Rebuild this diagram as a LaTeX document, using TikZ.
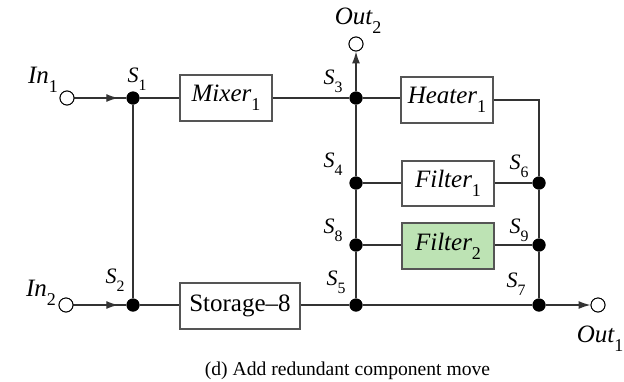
\documentclass[tikz,border=0pt]{standalone}
\usepackage{fontspec}
\setmainfont{Liberation Serif}
\usetikzlibrary{arrows.meta}
\definecolor{lineC}{HTML}{333333}
\definecolor{boxC}{HTML}{555555}
\definecolor{greenF}{HTML}{BDE3B4}
\newcommand\lsub[1]{\raisebox{-0.36em}{\scalebox{0.72}{\upshape #1}}}
\tikzset{
  comp/.style={draw=boxC, line width=1.2pt, minimum width=92pt, minimum height=46pt, inner sep=0pt, font=\fontsize{25}{30}\selectfont},
  junc/.style={circle, fill=black, minimum size=13pt, inner sep=0pt},
  port/.style={circle, draw=black, fill=white, line width=0.9pt, minimum size=14pt, inner sep=0pt},
  wire/.style={draw=lineC, line width=1.3pt},
  arr/.style={wire, -{Latex[length=12pt,width=8pt]}},
  slab/.style={inner sep=0pt, font=\fontsize{22}{26}\selectfont},
  plab/.style={inner sep=0pt, font=\fontsize{25}{30}\selectfont},
}
\begin{document}
\begin{tikzpicture}[x=1pt,y=-1pt]
\useasboundingbox (0,0) rectangle (624,381);
% ports
\node[port] (in1) at (67,98) {};
\node[port] (in2) at (66,305) {};
\node[port] (out2) at (356,44) {};
\node[port] (out1) at (598,305) {};
% junctions
\node[junc] (s1) at (133,98) {};
\node[junc] (s2) at (133,305) {};
\node[junc] (s3) at (356,98) {};
\node[junc] (s4) at (356,183) {};
\node[junc] (s8) at (356,245) {};
\node[junc] (s5) at (356,305) {};
\node[junc] (s6) at (539,183) {};
\node[junc] (s9) at (539,245) {};
\node[junc] (s7) at (539,305) {};
% components
\node[comp] (mixer) at (226,98) {\itshape Mixer\lsub{1}};
\node[comp, minimum width=120pt] (storage) at (240,306) {Storage–8};
\node[comp] (heater) at (447,100) {\itshape Heater\lsub{1}};
\node[comp, minimum height=45pt] (filter1) at (448,183.5) {\itshape Filter\lsub{1}};
\node[comp, fill=greenF] (filter2) at (448,246) {\itshape Filter\lsub{2}};
% wires
\draw[wire] (in1) -- (s1);
\draw[arr, shorten >=8pt] (in1) -- (s1);
\draw[wire] (in2) -- (s2);
\draw[arr, shorten >=8pt] (in2) -- (s2);
\draw[wire] (s1) -- (s2);
\draw[wire] (s1) -- (mixer);
\draw[wire] (mixer) -- (s3);
\draw[wire] (s2) -- (storage.west |- s2);
\draw[wire] (storage.east |- s5) -- (s5);
\draw[arr] (s3) -- (out2);
\draw[wire] (s3) -- (heater.west |- s3);
\draw[wire] (heater.east) -| (s6);
\draw[wire] (s3) -- (s4) -- (s8) -- (s5);
\draw[wire] (s6) -- (s9) -- (s7);
\draw[wire] (s4) -- (filter1.west |- s4);
\draw[wire] (filter1.east |- s6) -- (s6);
\draw[wire] (s8) -- (filter2.west |- s8);
\draw[wire] (filter2.east |- s9) -- (s9);
\draw[wire] (s5) -- (s7);
\draw[arr] (s7) -- (out1);
% redraw junctions on top
\foreach \n in {s1,s2,s3,s4,s8,s5,s6,s9,s7}{\fill (\n) circle (6.5pt);}
\foreach \n in {in1,in2,out1,out2}{\draw[line width=0.9pt, fill=white] (\n) circle (7pt);}
% labels
\node[plab] (lin1) at (43,80) {\itshape In\lsub{1}};
\node[plab] (lin2) at (41,293) {\itshape In\lsub{2}};
\node[plab] (lout2) at (358,21) {\itshape Out\lsub{2}};
\node[plab] (lout1) at (600,339) {\itshape Out\lsub{1}};
\node[slab] (ls1) at (137,79) {\itshape S\lsub{1}};
\node[slab] (ls2) at (115,280) {\itshape S\lsub{2}};
\node[slab] (ls3) at (333,81) {\itshape S\lsub{3}};
\node[slab] (ls4) at (333,164) {\itshape S\lsub{4}};
\node[slab] (ls8) at (333,230) {\itshape S\lsub{8}};
\node[slab] (ls5) at (336,282) {\itshape S\lsub{5}};
\node[slab] (ls6) at (519,166) {\itshape S\lsub{6}};
\node[slab] (ls9) at (519,230) {\itshape S\lsub{9}};
\node[slab] (ls7) at (516,284) {\itshape S\lsub{7}};
\node[inner sep=0pt, anchor=base, font=\fontsize{19.6}{23}\selectfont] (cap) at (347.5,375) {(d) Add redundant component move};
\end{tikzpicture}
\end{document}
